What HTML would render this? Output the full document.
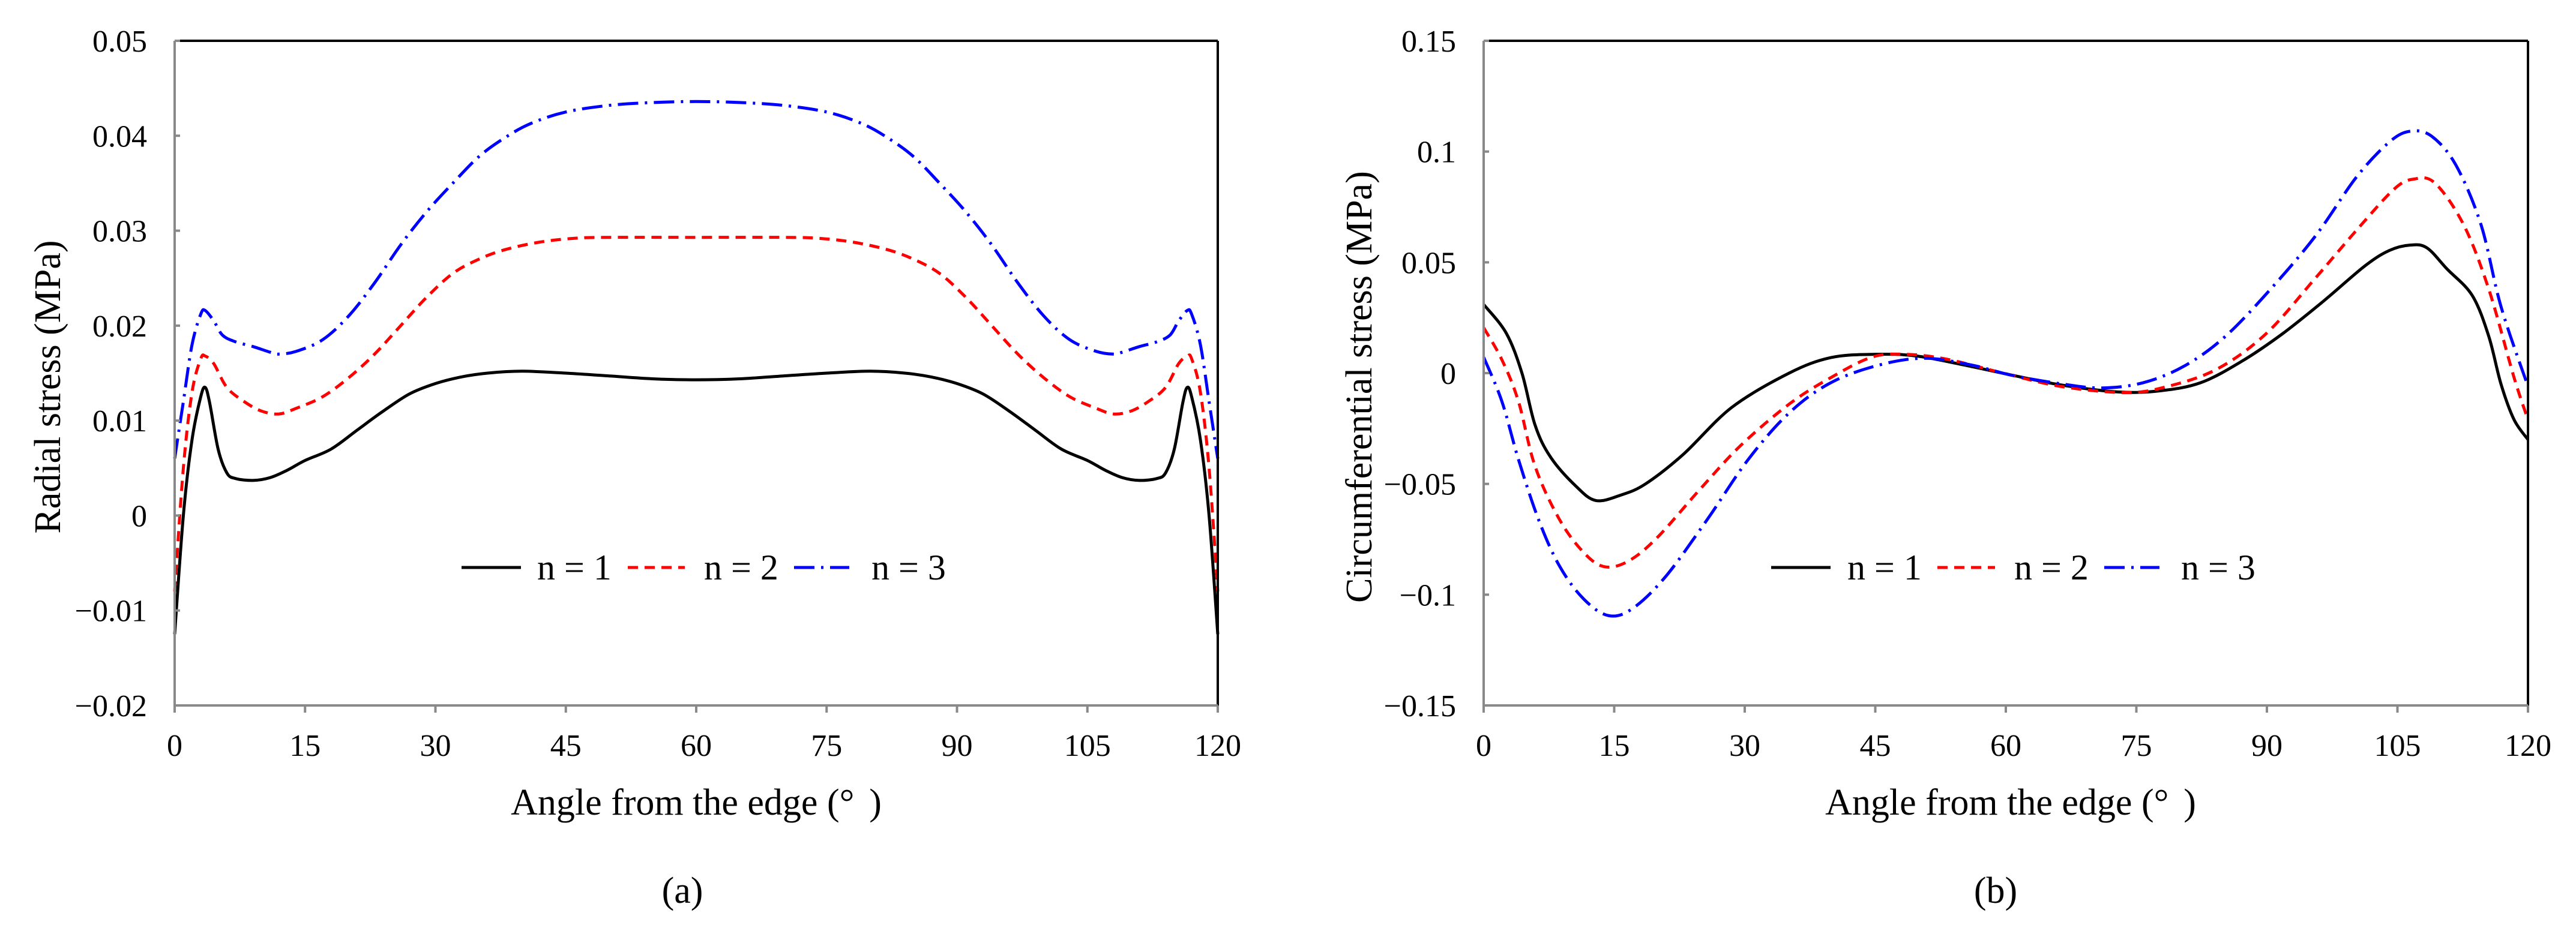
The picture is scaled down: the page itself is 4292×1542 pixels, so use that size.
<!DOCTYPE html>
<html><head><meta charset="utf-8"><style>
html,body{margin:0;padding:0;background:#fff;}
svg{display:block;font-family:"Liberation Serif","Times New Roman",serif;}
</style></head><body>
<svg id="fig" width="4292" height="1542" viewBox="0 0 4292 1542" xmlns="http://www.w3.org/2000/svg"></svg>
<script>
// ---- Chart (a) data: radial stress ----
const aX1 = [0,1,2,3,3.5,4,5,6,7,9,11,13,15,18,21,24,27,30,33,36,40,45,50,55,60,65,70,75,80,84,87,90,93,96,99,102,105,107,109,111,113,114,115,116,116.5,117,118,119,120];
const aY1 = [-0.0125,0,0.008,0.0125,0.0135,0.012,0.007,0.0045,0.0039,0.0037,0.004,0.0048,0.0058,0.007,0.009,0.011,0.0128,0.0139,0.0146,0.015,0.0152,0.015,0.0147,0.0144,0.0143,0.0144,0.0147,0.015,0.0152,0.015,0.0146,0.0139,0.0128,0.011,0.009,0.007,0.0058,0.0048,0.004,0.0037,0.0039,0.0045,0.007,0.012,0.0135,0.0125,0.008,0,-0.0125];
const aX2 = [0,1,2,3,3.5,4.5,6,8,10,12,14,17,20,23,26,29,32,35,38,42,46,50,60,70,74,78,82,85,88,91,94,97,100,103,106,108,110,112,114,115.5,116.5,117,118,119,120];
const aY2 = [-0.008,0.005,0.013,0.0165,0.0168,0.016,0.0135,0.012,0.011,0.0107,0.0113,0.0125,0.0145,0.017,0.02,0.023,0.0255,0.027,0.028,0.0288,0.0292,0.0293,0.0293,0.0293,0.0292,0.0288,0.028,0.027,0.0255,0.023,0.02,0.017,0.0145,0.0125,0.0113,0.0107,0.011,0.012,0.0135,0.016,0.0168,0.0165,0.013,0.005,-0.008];
const aX3 = [0,1,2,3,3.5,4.5,5.5,7,9,11,12,14,17,20,23,26,29,32,35,38,41,45,50,55,60,65,70,75,79,82,85,88,91,94,97,100,103,106,108,109,111,113,114.5,115.5,116.5,117,118,119,120];
const aY3 = [0.006,0.012,0.018,0.0212,0.0216,0.0205,0.019,0.0183,0.0178,0.0172,0.017,0.0173,0.0185,0.021,0.0245,0.0285,0.032,0.035,0.0378,0.0398,0.0413,0.0425,0.0432,0.0435,0.0436,0.0435,0.0432,0.0425,0.0413,0.0398,0.0378,0.035,0.032,0.0285,0.0245,0.021,0.0185,0.0173,0.017,0.0172,0.0178,0.0183,0.019,0.0205,0.0216,0.0212,0.018,0.012,0.006];
const aYTicks = ["-0.02","-0.01","0","0.01","0.02","0.03","0.04","0.05"];
const aYTickVals = [-0.02,-0.01,0,0.01,0.02,0.03,0.04,0.05];
// ---- Chart (b) data: circumferential stress ----
const bX1 = [0,2.6,4.4,5.9,7.7,10.6,12.9,15.8,18.6,22.9,28.5,35.1,39.9,45,49.8,56,60.2,66.3,72.9,77.7,82.4,87.1,91.8,96.5,101.3,104.1,106.5,108.4,110.7,113.6,115.5,116.9,118.4,120];
const bY1 = [0.031,0.018,0,-0.0234,-0.038,-0.051,-0.0575,-0.055,-0.05,-0.0368,-0.0155,0,0.007,0.0085,0.0077,0.003,-0.0005,-0.0053,-0.0085,-0.008,-0.0043,0.0053,0.0178,0.0325,0.0485,0.0554,0.0578,0.0565,0.047,0.035,0.0165,-0.005,-0.021,-0.03];
const bX2 = [0,2.1,4,5.9,8.7,11.5,13.9,16.7,20,24.8,29.5,35.1,39.9,44.6,48.4,53.1,59.7,66.3,73.8,78.6,84.3,89.9,95.6,100.3,104.6,106.9,109.3,112.6,115.5,118.4,120];
const bY2 = [0.0205,0.006,-0.0128,-0.042,-0.066,-0.081,-0.0874,-0.0847,-0.074,-0.0527,-0.0328,-0.014,-0.002,0.0072,0.0085,0.0064,0,-0.006,-0.0088,-0.006,0.0019,0.0178,0.043,0.0645,0.083,0.0876,0.0858,0.067,0.0378,-0.002,-0.021];
const bX3 = [0,2.1,4,6.3,8.7,11.5,14.4,17.2,21,25.7,30.4,35.1,39.9,45.5,50.7,56,60.7,66.3,71,75.8,80.5,85.2,90.4,95.6,100.3,104.1,106.5,108.9,111.7,114.6,116.9,120];
const bY3 = [0.0072,-0.0128,-0.039,-0.066,-0.087,-0.102,-0.1095,-0.106,-0.0914,-0.066,-0.039,-0.018,-0.0043,0.0037,0.0067,0.0037,-0.001,-0.0048,-0.0067,-0.0043,0.0032,0.0165,0.0378,0.062,0.0885,0.1044,0.1092,0.107,0.094,0.067,0.03,-0.006];
const bYTicks = ["-0.15","-0.1","-0.05","0","0.05","0.1","0.15"];
const bYTickVals = [-0.15,-0.1,-0.05,0,0.05,0.1,0.15];
const xTicks = [0,15,30,45,60,75,90,105,120];

const NS="http://www.w3.org/2000/svg";
const svg=document.getElementById('fig');
function mk(tag,attrs,parent){const e=document.createElementNS(NS,tag);for(const k in attrs)e.setAttribute(k,attrs[k]);(parent||svg).appendChild(e);return e;}
function smooth(pts){let d=`M${pts[0][0]},${pts[0][1]}`;for(let i=0;i<pts.length-1;i++){const p0=pts[i-1]||pts[i],p1=pts[i],p2=pts[i+1],p3=pts[i+2]||p2;const c1x=p1[0]+(p2[0]-p0[0])/6,c1y=p1[1]+(p2[1]-p0[1])/6,c2x=p2[0]-(p3[0]-p1[0])/6,c2y=p2[1]-(p3[1]-p1[1])/6;d+=` C${c1x.toFixed(1)},${c1y.toFixed(1)} ${c2x.toFixed(1)},${c2y.toFixed(1)} ${p2[0].toFixed(1)},${p2[1].toFixed(1)}`;}return d;}
const styles=[{stroke:'#000',dash:''},{stroke:'#ff0000',dash:'17 11'},{stroke:'#0000ff',dash:'34 11 4 11'}];

function chart(cfg){
  const g=mk('g',{});
  
  
  const L=cfg.L,R=cfg.R,T=68,B=1176;
  const xs=v=>L+(v-0)/120*(R-L);
  const ys=v=>B-(v-cfg.ymin)/(cfg.ymax-cfg.ymin)*(B-T);
  cfg.series.forEach((s,i)=>{
    const pts=s[0].map((x,j)=>[xs(x),ys(s[1][j])]);
    const p=mk('path',{d:smooth(pts),fill:'none',stroke:styles[i].stroke,'stroke-width':5,'stroke-dasharray':styles[i].dash,'stroke-linejoin':'round'},g);
    
    
  });
  const top=mk('line',{x1:L,y1:T,x2:R,y2:T,stroke:'#000','stroke-width':4},g);
  
  const rt=mk('line',{x1:R,y1:T,x2:R,y2:B,stroke:'#000','stroke-width':4},g);
  
  const ya=mk('line',{x1:L,y1:T,x2:L,y2:B,stroke:'#898989','stroke-width':4},g);
  
  const xa=mk('line',{x1:L,y1:B,x2:R,y2:B,stroke:'#898989','stroke-width':4},g);
  
  xTicks.forEach(v=>{
    const tk=mk('line',{x1:xs(v),y1:B,x2:xs(v),y2:B+12,stroke:'#898989','stroke-width':4},g);
    
    const t=mk('text',{x:xs(v),y:1260,'text-anchor':'middle','font-size':52},g);
    t.textContent=String(v);
    
  });
  cfg.yv.forEach((v,i)=>{
    const tk=mk('line',{x1:L,y1:ys(v),x2:L+9,y2:ys(v),stroke:'#898989','stroke-width':4},g);
    
    const t=mk('text',{x:L-46,y:ys(v)+18,'text-anchor':'end','font-size':52},g);
    t.textContent=cfg.yt[i].replace('-','\u2212');
    
  });
  const xt=mk('text',{x:cfg.xtc,y:1358,'text-anchor':'middle','font-size':62},g);
  xt.textContent='Angle from the edge (\u00b0\u2009\u2009)';
  
  const yt=mk('text',{x:0,y:0,'text-anchor':'middle','font-size':62,transform:`translate(${cfg.ytx},645) rotate(-90)`},g);
  yt.textContent=cfg.ytitle;
  
  const cap=mk('text',{x:cfg.capx,y:1505,'text-anchor':'middle','font-size':62},g);
  cap.textContent=cfg.cap;
  
  const lg=mk('g',{},g);
  
  cfg.leg.forEach((l,i)=>{
    const ln=mk('line',{x1:l[0],y1:946,x2:l[1],y2:946,stroke:styles[i].stroke,'stroke-width':5,'stroke-dasharray':styles[i].dash},lg);
    
    const t=mk('text',{x:l[2],y:966,'font-size':60},lg);
    t.textContent='n = '+(i+1);
    
  });
}
chart({name:'chart-radial-stress',L:291,R:2029,ymin:-0.02,ymax:0.05,yv:aYTickVals,yt:aYTicks,
  series:[[aX1,aY1],[aX2,aY2],[aX3,aY3]],xtc:1160,ytx:100,ytitle:'Radial stress (MPa)',capx:1137,cap:'(a)',
  leg:[[769,868,895],[1046,1141,1173],[1323,1415,1452]]});
chart({name:'chart-circumferential-stress',L:2472,R:4212,ymin:-0.15,ymax:0.15,yv:bYTickVals,yt:bYTicks,
  series:[[bX1,bY1],[bX2,bY2],[bX3,bY3]],xtc:3350,ytx:2285,ytitle:'Circumferential stress (MPa)',capx:3325,cap:'(b)',
  leg:[[2951,3050,3078],[3228,3324,3356],[3506,3598,3634]]});
</script>
</body></html>
